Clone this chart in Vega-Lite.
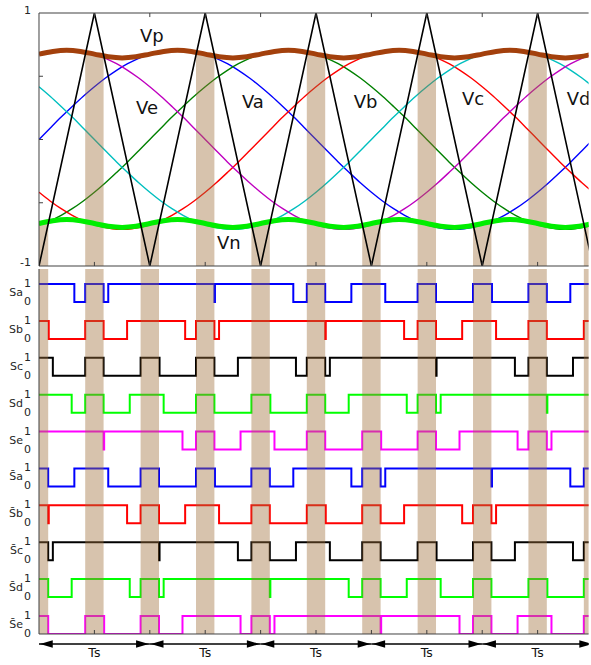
{
  "$schema": "https://vega.github.io/schema/vega-lite/v6.json",
  "padding": {"left": 9, "top": 5, "right": 0, "bottom": 0},
  "background": "white",
  "config": {
    "font": "DejaVu Sans",
    "view": {"stroke": null}
  },
  "spacing": 0,
  "datasets": {
    "ph": [
      {"t":0,"va":0,"vb":-0.675,"vc":-0.417,"vd":0.417,"ve":0.675},
      {"t":0.1,"va":0.089,"vb":-0.642,"vc":-0.486,"vd":0.342,"ve":0.697},
      {"t":0.2,"va":0.177,"vb":-0.599,"vc":-0.547,"vd":0.261,"ve":0.709},
      {"t":0.3,"va":0.261,"vb":-0.547,"vc":-0.599,"vd":0.177,"ve":0.709},
      {"t":0.4,"va":0.342,"vb":-0.486,"vc":-0.642,"vd":0.089,"ve":0.697},
      {"t":0.5,"va":0.417,"vb":-0.417,"vc":-0.675,"vd":0,"ve":0.675},
      {"t":0.6,"va":0.486,"vb":-0.342,"vc":-0.697,"vd":-0.089,"ve":0.642},
      {"t":0.7,"va":0.547,"vb":-0.261,"vc":-0.709,"vd":-0.177,"ve":0.599},
      {"t":0.8,"va":0.599,"vb":-0.177,"vc":-0.709,"vd":-0.261,"ve":0.547},
      {"t":0.9,"va":0.642,"vb":-0.089,"vc":-0.697,"vd":-0.342,"ve":0.486},
      {"t":1.0,"va":0.675,"vb":0,"vc":-0.675,"vd":-0.417,"ve":0.417},
      {"t":1.1,"va":0.697,"vb":0.089,"vc":-0.642,"vd":-0.486,"ve":0.342},
      {"t":1.2,"va":0.709,"vb":0.177,"vc":-0.599,"vd":-0.547,"ve":0.261},
      {"t":1.3,"va":0.709,"vb":0.261,"vc":-0.547,"vd":-0.599,"ve":0.177},
      {"t":1.4,"va":0.697,"vb":0.342,"vc":-0.486,"vd":-0.642,"ve":0.089},
      {"t":1.5,"va":0.675,"vb":0.417,"vc":-0.417,"vd":-0.675,"ve":0},
      {"t":1.6,"va":0.642,"vb":0.486,"vc":-0.342,"vd":-0.697,"ve":-0.089},
      {"t":1.7,"va":0.599,"vb":0.547,"vc":-0.261,"vd":-0.709,"ve":-0.177},
      {"t":1.8,"va":0.547,"vb":0.599,"vc":-0.177,"vd":-0.709,"ve":-0.261},
      {"t":1.9,"va":0.486,"vb":0.642,"vc":-0.089,"vd":-0.697,"ve":-0.342},
      {"t":2.0,"va":0.417,"vb":0.675,"vc":0,"vd":-0.675,"ve":-0.417},
      {"t":2.1,"va":0.342,"vb":0.697,"vc":0.089,"vd":-0.642,"ve":-0.486},
      {"t":2.2,"va":0.261,"vb":0.709,"vc":0.177,"vd":-0.599,"ve":-0.547},
      {"t":2.3,"va":0.177,"vb":0.709,"vc":0.261,"vd":-0.547,"ve":-0.599},
      {"t":2.4,"va":0.089,"vb":0.697,"vc":0.342,"vd":-0.486,"ve":-0.642},
      {"t":2.5,"va":0,"vb":0.675,"vc":0.417,"vd":-0.417,"ve":-0.675},
      {"t":2.6,"va":-0.089,"vb":0.642,"vc":0.486,"vd":-0.342,"ve":-0.697},
      {"t":2.7,"va":-0.177,"vb":0.599,"vc":0.547,"vd":-0.261,"ve":-0.709},
      {"t":2.8,"va":-0.261,"vb":0.547,"vc":0.599,"vd":-0.177,"ve":-0.709},
      {"t":2.9,"va":-0.342,"vb":0.486,"vc":0.642,"vd":-0.089,"ve":-0.697},
      {"t":3.0,"va":-0.417,"vb":0.417,"vc":0.675,"vd":0,"ve":-0.675},
      {"t":3.1,"va":-0.486,"vb":0.342,"vc":0.697,"vd":0.089,"ve":-0.642},
      {"t":3.2,"va":-0.547,"vb":0.261,"vc":0.709,"vd":0.177,"ve":-0.599},
      {"t":3.3,"va":-0.599,"vb":0.177,"vc":0.709,"vd":0.261,"ve":-0.547},
      {"t":3.4,"va":-0.642,"vb":0.089,"vc":0.697,"vd":0.342,"ve":-0.486},
      {"t":3.5,"va":-0.675,"vb":0,"vc":0.675,"vd":0.417,"ve":-0.417},
      {"t":3.6,"va":-0.697,"vb":-0.089,"vc":0.642,"vd":0.486,"ve":-0.342},
      {"t":3.7,"va":-0.709,"vb":-0.177,"vc":0.599,"vd":0.547,"ve":-0.261},
      {"t":3.8,"va":-0.709,"vb":-0.261,"vc":0.547,"vd":0.599,"ve":-0.177},
      {"t":3.9,"va":-0.697,"vb":-0.342,"vc":0.486,"vd":0.642,"ve":-0.089},
      {"t":4.0,"va":-0.675,"vb":-0.417,"vc":0.417,"vd":0.675,"ve":0},
      {"t":4.1,"va":-0.642,"vb":-0.486,"vc":0.342,"vd":0.697,"ve":0.089},
      {"t":4.2,"va":-0.599,"vb":-0.547,"vc":0.261,"vd":0.709,"ve":0.177},
      {"t":4.3,"va":-0.547,"vb":-0.599,"vc":0.177,"vd":0.709,"ve":0.261},
      {"t":4.4,"va":-0.486,"vb":-0.642,"vc":0.089,"vd":0.697,"ve":0.342},
      {"t":4.5,"va":-0.417,"vb":-0.675,"vc":0,"vd":0.675,"ve":0.417},
      {"t":4.6,"va":-0.342,"vb":-0.697,"vc":-0.089,"vd":0.642,"ve":0.486},
      {"t":4.7,"va":-0.261,"vb":-0.709,"vc":-0.177,"vd":0.599,"ve":0.547},
      {"t":4.8,"va":-0.177,"vb":-0.709,"vc":-0.261,"vd":0.547,"ve":0.599},
      {"t":4.9,"va":-0.089,"vb":-0.697,"vc":-0.342,"vd":0.486,"ve":0.642},
      {"t":5.0,"va":0,"vb":-0.675,"vc":-0.417,"vd":0.417,"ve":0.675}
    ],
    "env": [
      {"t":0,"vp":0.675,"vn":-0.664},{"t":0.125,"vp":0.696,"vn":-0.642},{"t":0.25,"vp":0.705,"vn":-0.633},{"t":0.375,"vp":0.696,"vn":-0.642},
      {"t":0.5,"vp":0.675,"vn":-0.664},{"t":0.625,"vp":0.654,"vn":-0.686},{"t":0.75,"vp":0.645,"vn":-0.695},{"t":0.875,"vp":0.654,"vn":-0.686},
      {"t":1,"vp":0.675,"vn":-0.664},{"t":1.125,"vp":0.696,"vn":-0.642},{"t":1.25,"vp":0.705,"vn":-0.633},{"t":1.375,"vp":0.696,"vn":-0.642},
      {"t":1.5,"vp":0.675,"vn":-0.664},{"t":1.625,"vp":0.654,"vn":-0.686},{"t":1.75,"vp":0.645,"vn":-0.695},{"t":1.875,"vp":0.654,"vn":-0.686},
      {"t":2,"vp":0.675,"vn":-0.664},{"t":2.125,"vp":0.696,"vn":-0.642},{"t":2.25,"vp":0.705,"vn":-0.633},{"t":2.375,"vp":0.696,"vn":-0.642},
      {"t":2.5,"vp":0.675,"vn":-0.664},{"t":2.625,"vp":0.654,"vn":-0.686},{"t":2.75,"vp":0.645,"vn":-0.695},{"t":2.875,"vp":0.654,"vn":-0.686},
      {"t":3,"vp":0.675,"vn":-0.664},{"t":3.125,"vp":0.696,"vn":-0.642},{"t":3.25,"vp":0.705,"vn":-0.633},{"t":3.375,"vp":0.696,"vn":-0.642},
      {"t":3.5,"vp":0.675,"vn":-0.664},{"t":3.625,"vp":0.654,"vn":-0.686},{"t":3.75,"vp":0.645,"vn":-0.695},{"t":3.875,"vp":0.654,"vn":-0.686},
      {"t":4,"vp":0.675,"vn":-0.664},{"t":4.125,"vp":0.696,"vn":-0.642},{"t":4.25,"vp":0.705,"vn":-0.633},{"t":4.375,"vp":0.696,"vn":-0.642},
      {"t":4.5,"vp":0.675,"vn":-0.664},{"t":4.625,"vp":0.654,"vn":-0.686},{"t":4.75,"vp":0.645,"vn":-0.695},{"t":4.875,"vp":0.654,"vn":-0.686},
      {"t":5,"vp":0.675,"vn":-0.664}
    ],
    "car": [
      {"t":0,"v":-1},{"t":0.5,"v":1},{"t":1,"v":-1},{"t":1.5,"v":1},{"t":2,"v":-1},{"t":2.5,"v":1},
      {"t":3,"v":-1},{"t":3.5,"v":1},{"t":4,"v":-1},{"t":4.5,"v":1},{"t":5,"v":-1}
    ],
    "bands": [
      {"b0":0,"b1":0.083,"top":-0.664},{"b0":0.417,"b1":0.583,"top":0.675},{"b0":0.917,"b1":1.083,"top":-0.664},
      {"b0":1.417,"b1":1.583,"top":0.675},{"b0":1.917,"b1":2.083,"top":-0.664},{"b0":2.417,"b1":2.583,"top":0.675},
      {"b0":2.917,"b1":3.083,"top":-0.664},{"b0":3.417,"b1":3.583,"top":0.675},{"b0":3.917,"b1":4.083,"top":-0.664},
      {"b0":4.417,"b1":4.583,"top":0.675},{"b0":4.917,"b1":5,"top":-0.664}
    ],
    "ticks": [
      {"t":0.5},{"t":1},{"t":1.5},{"t":2},{"t":2.5},{"t":3},{"t":3.5},{"t":4},{"t":4.5}
    ],
    "bt": [
      {"t":0.5,"s":"S̄e","v":0.111},{"t":1,"s":"S̄e","v":0.111},{"t":1.5,"s":"S̄e","v":0.111},{"t":2,"s":"S̄e","v":0.111},
      {"t":2.5,"s":"S̄e","v":0.111},{"t":3,"s":"S̄e","v":0.111},{"t":3.5,"s":"S̄e","v":0.111},{"t":4,"s":"S̄e","v":0.111},
      {"t":4.5,"s":"S̄e","v":0.111}
    ],
    "yticks": [{"v":0.5},{"v":0},{"v":-0.5}],
    "names": [
      {"lab":"Vp","t":1.018,"v":0.771},{"lab":"Ve","t":0.975,"v":0.202},{"lab":"Va","t":1.93,"v":0.247},
      {"lab":"Vb","t":2.947,"v":0.249},{"lab":"Vc","t":3.917,"v":0.273},{"lab":"Vd","t":4.87,"v":0.273},
      {"lab":"Vn","t":1.713,"v":-0.866}
    ],
    "sw": [
      {"s":"Sa","t":0,"v":1},{"s":"Sa","t":0.319,"v":0},{"s":"Sa","t":0.417,"v":1},{"s":"Sa","t":0.583,"v":0},{"s":"Sa","t":0.625,"v":1},{"s":"Sa","t":1.583,"v":0},{"s":"Sa","t":1.588,"v":1},{"s":"Sa","t":2.295,"v":0},{"s":"Sa","t":2.417,"v":1},{"s":"Sa","t":2.583,"v":0},{"s":"Sa","t":2.819,"v":1},{"s":"Sa","t":3.125,"v":0},{"s":"Sa","t":3.417,"v":1},{"s":"Sa","t":3.583,"v":0},{"s":"Sa","t":3.917,"v":1},{"s":"Sa","t":4.088,"v":0},{"s":"Sa","t":4.417,"v":1},{"s":"Sa","t":4.583,"v":0},{"s":"Sa","t":4.795,"v":1},{"s":"Sa","t":5,"v":1},
      {"s":"Sb","t":0,"v":1},{"s":"Sb","t":0.088,"v":0},{"s":"Sb","t":0.417,"v":1},{"s":"Sb","t":0.583,"v":0},{"s":"Sb","t":0.795,"v":1},{"s":"Sb","t":1.319,"v":0},{"s":"Sb","t":1.417,"v":1},{"s":"Sb","t":1.583,"v":0},{"s":"Sb","t":1.625,"v":1},{"s":"Sb","t":2.583,"v":0},{"s":"Sb","t":2.588,"v":1},{"s":"Sb","t":3.295,"v":0},{"s":"Sb","t":3.417,"v":1},{"s":"Sb","t":3.583,"v":0},{"s":"Sb","t":3.819,"v":1},{"s":"Sb","t":4.125,"v":0},{"s":"Sb","t":4.417,"v":1},{"s":"Sb","t":4.583,"v":0},{"s":"Sb","t":4.917,"v":1},{"s":"Sb","t":5,"v":1},
      {"s":"Sc","t":0,"v":1},{"s":"Sc","t":0.125,"v":0},{"s":"Sc","t":0.417,"v":1},{"s":"Sc","t":0.583,"v":0},{"s":"Sc","t":0.917,"v":1},{"s":"Sc","t":1.088,"v":0},{"s":"Sc","t":1.417,"v":1},{"s":"Sc","t":1.583,"v":0},{"s":"Sc","t":1.795,"v":1},{"s":"Sc","t":2.319,"v":0},{"s":"Sc","t":2.417,"v":1},{"s":"Sc","t":2.583,"v":0},{"s":"Sc","t":2.625,"v":1},{"s":"Sc","t":3.583,"v":0},{"s":"Sc","t":3.588,"v":1},{"s":"Sc","t":4.295,"v":0},{"s":"Sc","t":4.417,"v":1},{"s":"Sc","t":4.583,"v":0},{"s":"Sc","t":4.819,"v":1},{"s":"Sc","t":5,"v":1},
      {"s":"Sd","t":0,"v":1},{"s":"Sd","t":0.295,"v":0},{"s":"Sd","t":0.417,"v":1},{"s":"Sd","t":0.583,"v":0},{"s":"Sd","t":0.819,"v":1},{"s":"Sd","t":1.125,"v":0},{"s":"Sd","t":1.417,"v":1},{"s":"Sd","t":1.583,"v":0},{"s":"Sd","t":1.917,"v":1},{"s":"Sd","t":2.088,"v":0},{"s":"Sd","t":2.417,"v":1},{"s":"Sd","t":2.583,"v":0},{"s":"Sd","t":2.795,"v":1},{"s":"Sd","t":3.319,"v":0},{"s":"Sd","t":3.417,"v":1},{"s":"Sd","t":3.583,"v":0},{"s":"Sd","t":3.625,"v":1},{"s":"Sd","t":4.583,"v":0},{"s":"Sd","t":4.588,"v":1},{"s":"Sd","t":5,"v":1},
      {"s":"Se","t":0,"v":1},{"s":"Se","t":0.583,"v":0},{"s":"Se","t":0.588,"v":1},{"s":"Se","t":1.295,"v":0},{"s":"Se","t":1.417,"v":1},{"s":"Se","t":1.583,"v":0},{"s":"Se","t":1.819,"v":1},{"s":"Se","t":2.125,"v":0},{"s":"Se","t":2.417,"v":1},{"s":"Se","t":2.583,"v":0},{"s":"Se","t":2.917,"v":1},{"s":"Se","t":3.088,"v":0},{"s":"Se","t":3.417,"v":1},{"s":"Se","t":3.583,"v":0},{"s":"Se","t":3.795,"v":1},{"s":"Se","t":4.319,"v":0},{"s":"Se","t":4.417,"v":1},{"s":"Se","t":4.583,"v":0},{"s":"Se","t":4.625,"v":1},{"s":"Se","t":5,"v":1},
      {"s":"S̄a","t":0,"v":1},{"s":"S̄a","t":0.083,"v":0},{"s":"S̄a","t":0.319,"v":1},{"s":"S̄a","t":0.625,"v":0},{"s":"S̄a","t":0.917,"v":1},{"s":"S̄a","t":1.083,"v":0},{"s":"S̄a","t":1.417,"v":1},{"s":"S̄a","t":1.588,"v":0},{"s":"S̄a","t":1.917,"v":1},{"s":"S̄a","t":2.083,"v":0},{"s":"S̄a","t":2.295,"v":1},{"s":"S̄a","t":2.819,"v":0},{"s":"S̄a","t":2.917,"v":1},{"s":"S̄a","t":3.083,"v":0},{"s":"S̄a","t":3.125,"v":1},{"s":"S̄a","t":4.083,"v":0},{"s":"S̄a","t":4.088,"v":1},{"s":"S̄a","t":4.795,"v":0},{"s":"S̄a","t":4.917,"v":1},{"s":"S̄a","t":5,"v":1},
      {"s":"S̄b","t":0,"v":1},{"s":"S̄b","t":0.083,"v":0},{"s":"S̄b","t":0.088,"v":1},{"s":"S̄b","t":0.795,"v":0},{"s":"S̄b","t":0.917,"v":1},{"s":"S̄b","t":1.083,"v":0},{"s":"S̄b","t":1.319,"v":1},{"s":"S̄b","t":1.625,"v":0},{"s":"S̄b","t":1.917,"v":1},{"s":"S̄b","t":2.083,"v":0},{"s":"S̄b","t":2.417,"v":1},{"s":"S̄b","t":2.588,"v":0},{"s":"S̄b","t":2.917,"v":1},{"s":"S̄b","t":3.083,"v":0},{"s":"S̄b","t":3.295,"v":1},{"s":"S̄b","t":3.819,"v":0},{"s":"S̄b","t":3.917,"v":1},{"s":"S̄b","t":4.083,"v":0},{"s":"S̄b","t":4.125,"v":1},{"s":"S̄b","t":5,"v":1},
      {"s":"S̄c","t":0,"v":1},{"s":"S̄c","t":0.083,"v":0},{"s":"S̄c","t":0.125,"v":1},{"s":"S̄c","t":1.083,"v":0},{"s":"S̄c","t":1.088,"v":1},{"s":"S̄c","t":1.795,"v":0},{"s":"S̄c","t":1.917,"v":1},{"s":"S̄c","t":2.083,"v":0},{"s":"S̄c","t":2.319,"v":1},{"s":"S̄c","t":2.625,"v":0},{"s":"S̄c","t":2.917,"v":1},{"s":"S̄c","t":3.083,"v":0},{"s":"S̄c","t":3.417,"v":1},{"s":"S̄c","t":3.588,"v":0},{"s":"S̄c","t":3.917,"v":1},{"s":"S̄c","t":4.083,"v":0},{"s":"S̄c","t":4.295,"v":1},{"s":"S̄c","t":4.819,"v":0},{"s":"S̄c","t":4.917,"v":1},{"s":"S̄c","t":5,"v":1},
      {"s":"S̄d","t":0,"v":1},{"s":"S̄d","t":0.083,"v":0},{"s":"S̄d","t":0.295,"v":1},{"s":"S̄d","t":0.819,"v":0},{"s":"S̄d","t":0.917,"v":1},{"s":"S̄d","t":1.083,"v":0},{"s":"S̄d","t":1.125,"v":1},{"s":"S̄d","t":2.083,"v":0},{"s":"S̄d","t":2.088,"v":1},{"s":"S̄d","t":2.795,"v":0},{"s":"S̄d","t":2.917,"v":1},{"s":"S̄d","t":3.083,"v":0},{"s":"S̄d","t":3.319,"v":1},{"s":"S̄d","t":3.625,"v":0},{"s":"S̄d","t":3.917,"v":1},{"s":"S̄d","t":4.083,"v":0},{"s":"S̄d","t":4.417,"v":1},{"s":"S̄d","t":4.588,"v":0},{"s":"S̄d","t":4.917,"v":1},{"s":"S̄d","t":5,"v":1},
      {"s":"S̄e","t":0,"v":1},{"s":"S̄e","t":0.083,"v":0},{"s":"S̄e","t":0.417,"v":1},{"s":"S̄e","t":0.588,"v":0},{"s":"S̄e","t":0.917,"v":1},{"s":"S̄e","t":1.083,"v":0},{"s":"S̄e","t":1.295,"v":1},{"s":"S̄e","t":1.819,"v":0},{"s":"S̄e","t":1.917,"v":1},{"s":"S̄e","t":2.083,"v":0},{"s":"S̄e","t":2.125,"v":1},{"s":"S̄e","t":3.083,"v":0},{"s":"S̄e","t":3.088,"v":1},{"s":"S̄e","t":3.795,"v":0},{"s":"S̄e","t":3.917,"v":1},{"s":"S̄e","t":4.083,"v":0},{"s":"S̄e","t":4.319,"v":1},{"s":"S̄e","t":4.625,"v":0},{"s":"S̄e","t":4.917,"v":1},{"s":"S̄e","t":5,"v":1}
    ],
    "lv": [
      {"s":"Sa","v":1,"lab":"1"},{"s":"Sa","v":0,"lab":"0"},{"s":"Sb","v":1,"lab":"1"},{"s":"Sb","v":0,"lab":"0"},
      {"s":"Sc","v":1,"lab":"1"},{"s":"Sc","v":0,"lab":"0"},{"s":"Sd","v":1,"lab":"1"},{"s":"Sd","v":0,"lab":"0"},
      {"s":"Se","v":1,"lab":"1"},{"s":"Se","v":0,"lab":"0"},{"s":"S̄a","v":1,"lab":"1"},{"s":"S̄a","v":0,"lab":"0"},
      {"s":"S̄b","v":1,"lab":"1"},{"s":"S̄b","v":0,"lab":"0"},{"s":"S̄c","v":1,"lab":"1"},{"s":"S̄c","v":0,"lab":"0"},
      {"s":"S̄d","v":1,"lab":"1"},{"s":"S̄d","v":0,"lab":"0"},{"s":"S̄e","v":1,"lab":"1"},{"s":"S̄e","v":0,"lab":"0"}
    ],
    "nm": [
      {"s":"Sa","v":0.5},{"s":"Sb","v":0.5},{"s":"Sc","v":0.5},{"s":"Sd","v":0.5},{"s":"Se","v":0.5},
      {"s":"S̄a","v":0.5},{"s":"S̄b","v":0.5},{"s":"S̄c","v":0.5},{"s":"S̄d","v":0.5},{"s":"S̄e","v":0.5}
    ],
    "ts": [
      {"a0":0,"a1":1,"mid":0.5,"lab":"Ts"},{"a0":1,"a1":2,"mid":1.5,"lab":"Ts"},{"a0":2,"a1":3,"mid":2.5,"lab":"Ts"},
      {"a0":3,"a1":4,"mid":3.5,"lab":"Ts"},{"a0":4,"a1":5,"mid":4.5,"lab":"Ts"}
    ]
  },
  "vconcat": [
    {
      "width": 549.6,
      "height": 253,
      "layer": [
        {
          "data": {"name": "ph"},
          "mark": {"type": "line", "color": "#0000ff", "strokeWidth": 1.4, "interpolate": "monotone", "clip": true},
          "encoding": {
            "x": {"field": "t", "type": "quantitative", "scale": {"domain": [0, 4.96], "nice": false, "zero": false}, "axis": null},
            "y": {"field": "va", "type": "quantitative", "scale": {"domain": [-1, 1], "nice": false, "zero": false}, "axis": null}
          }
        },
        {
          "data": {"name": "ph"},
          "mark": {"type": "line", "color": "#008000", "strokeWidth": 1.4, "interpolate": "monotone", "clip": true},
          "encoding": {
            "x": {"field": "t", "type": "quantitative", "scale": {"domain": [0, 4.96], "nice": false, "zero": false}, "axis": null},
            "y": {"field": "vb", "type": "quantitative", "scale": {"domain": [-1, 1], "nice": false, "zero": false}, "axis": null}
          }
        },
        {
          "data": {"name": "ph"},
          "mark": {"type": "line", "color": "#ff0000", "strokeWidth": 1.4, "interpolate": "monotone", "clip": true},
          "encoding": {
            "x": {"field": "t", "type": "quantitative", "scale": {"domain": [0, 4.96], "nice": false, "zero": false}, "axis": null},
            "y": {"field": "vc", "type": "quantitative", "scale": {"domain": [-1, 1], "nice": false, "zero": false}, "axis": null}
          }
        },
        {
          "data": {"name": "ph"},
          "mark": {"type": "line", "color": "#00bfbf", "strokeWidth": 1.4, "interpolate": "monotone", "clip": true},
          "encoding": {
            "x": {"field": "t", "type": "quantitative", "scale": {"domain": [0, 4.96], "nice": false, "zero": false}, "axis": null},
            "y": {"field": "vd", "type": "quantitative", "scale": {"domain": [-1, 1], "nice": false, "zero": false}, "axis": null}
          }
        },
        {
          "data": {"name": "ph"},
          "mark": {"type": "line", "color": "#bf00bf", "strokeWidth": 1.4, "interpolate": "monotone", "clip": true},
          "encoding": {
            "x": {"field": "t", "type": "quantitative", "scale": {"domain": [0, 4.96], "nice": false, "zero": false}, "axis": null},
            "y": {"field": "ve", "type": "quantitative", "scale": {"domain": [-1, 1], "nice": false, "zero": false}, "axis": null}
          }
        },
        {
          "data": {"name": "bands"},
          "mark": {"type": "rect", "color": "#a0703c", "opacity": 0.42, "clip": true},
          "encoding": {
            "x": {"field": "b0", "type": "quantitative", "scale": {"domain": [0, 4.96], "nice": false, "zero": false}, "axis": null},
            "x2": {"field": "b1"},
            "y": {"field": "top", "type": "quantitative", "scale": {"domain": [-1, 1], "nice": false, "zero": false}, "axis": null},
            "y2": {"datum": -1}
          }
        },
        {
          "data": {"name": "env"},
          "mark": {"type": "line", "color": "#a3400c", "strokeWidth": 5, "interpolate": "monotone", "clip": true},
          "encoding": {
            "x": {"field": "t", "type": "quantitative", "scale": {"domain": [0, 4.96], "nice": false, "zero": false}, "axis": null},
            "y": {"field": "vp", "type": "quantitative", "scale": {"domain": [-1, 1], "nice": false, "zero": false}, "axis": null}
          }
        },
        {
          "data": {"name": "env"},
          "mark": {"type": "line", "color": "#00ee00", "strokeWidth": 5, "interpolate": "monotone", "clip": true},
          "encoding": {
            "x": {"field": "t", "type": "quantitative", "scale": {"domain": [0, 4.96], "nice": false, "zero": false}, "axis": null},
            "y": {"field": "vn", "type": "quantitative", "scale": {"domain": [-1, 1], "nice": false, "zero": false}, "axis": null}
          }
        },
        {
          "data": {"name": "car"},
          "mark": {"type": "line", "color": "#000000", "strokeWidth": 1.6, "clip": true},
          "encoding": {
            "x": {"field": "t", "type": "quantitative", "scale": {"domain": [0, 4.96], "nice": false, "zero": false}, "axis": null},
            "y": {"field": "v", "type": "quantitative", "scale": {"domain": [-1, 1], "nice": false, "zero": false}, "axis": null}
          }
        },
        {
          "data": {"name": "names"},
          "mark": {"type": "text", "fontSize": 18, "baseline": "alphabetic", "color": "#111111", "clip": true},
          "encoding": {
            "x": {"field": "t", "type": "quantitative", "scale": {"domain": [0, 4.96], "nice": false, "zero": false}, "axis": null},
            "y": {"field": "v", "type": "quantitative", "scale": {"domain": [-1, 1], "nice": false, "zero": false}, "axis": null},
            "text": {"field": "lab"}
          }
        },
        {
          "data": {"values": [{"b": 1}, {"b": -1}]},
          "mark": {"type": "rule", "color": "#404040", "strokeWidth": 1},
          "encoding": {
            "y": {"field": "b", "type": "quantitative", "scale": {"domain": [-1, 1], "nice": false, "zero": false}, "axis": null}
          }
        },
        {
          "data": {"values": [{"b": 0}]},
          "mark": {"type": "rule", "color": "#404040", "strokeWidth": 1},
          "encoding": {
            "x": {"field": "b", "type": "quantitative", "scale": {"domain": [0, 4.96], "nice": false, "zero": false}, "axis": null}
          }
        },
        {
          "data": {"name": "ticks"},
          "mark": {"type": "rule", "color": "#404040", "strokeWidth": 1},
          "encoding": {
            "x": {"field": "t", "type": "quantitative", "scale": {"domain": [0, 4.96], "nice": false, "zero": false}, "axis": null},
            "y": {"datum": 1, "type": "quantitative", "scale": {"domain": [-1, 1], "nice": false, "zero": false}, "axis": null},
            "y2": {"datum": 0.968}
          }
        },
        {
          "data": {"name": "ticks"},
          "mark": {"type": "rule", "color": "#404040", "strokeWidth": 1},
          "encoding": {
            "x": {"field": "t", "type": "quantitative", "scale": {"domain": [0, 4.96], "nice": false, "zero": false}, "axis": null},
            "y": {"datum": -1, "type": "quantitative", "scale": {"domain": [-1, 1], "nice": false, "zero": false}, "axis": null},
            "y2": {"datum": -0.968}
          }
        },
        {
          "data": {"name": "yticks"},
          "mark": {"type": "rule", "color": "#404040", "strokeWidth": 1},
          "encoding": {
            "y": {"field": "v", "type": "quantitative", "scale": {"domain": [-1, 1], "nice": false, "zero": false}, "axis": null},
            "x": {"datum": 0, "type": "quantitative", "scale": {"domain": [0, 4.96], "nice": false, "zero": false}, "axis": null},
            "x2": {"datum": 0.036}
          }
        },
        {
          "data": {"values": [{"lab": "1", "v": 1}]},
          "mark": {"type": "text", "align": "right", "baseline": "middle", "dx": -8, "dy": -2, "fontSize": 11, "color": "#262626"},
          "encoding": {
            "x": {"datum": 0, "type": "quantitative", "scale": {"domain": [0, 4.96], "nice": false, "zero": false}, "axis": null},
            "y": {"field": "v", "type": "quantitative", "scale": {"domain": [-1, 1], "nice": false, "zero": false}, "axis": null},
            "text": {"field": "lab"}
          }
        },
        {
          "data": {"values": [{"lab": "-1", "v": -1}]},
          "mark": {"type": "text", "align": "right", "baseline": "alphabetic", "dx": -8, "dy": 0, "fontSize": 11, "color": "#262626"},
          "encoding": {
            "x": {"datum": 0, "type": "quantitative", "scale": {"domain": [0, 4.96], "nice": false, "zero": false}, "axis": null},
            "y": {"field": "v", "type": "quantitative", "scale": {"domain": [-1, 1], "nice": false, "zero": false}, "axis": null},
            "text": {"field": "lab"}
          }
        }
      ]
    },
    {
      "width": 549.6,
      "height": 365,
      "layer": [
        {
          "data": {"name": "sw"},
          "mark": {"type": "line", "interpolate": "step-after", "strokeWidth": 2, "clip": true},
          "encoding": {
            "x": {"field": "t", "type": "quantitative", "scale": {"domain": [0, 4.96], "nice": false, "zero": false}, "axis": null},
            "y": {"field": "s", "type": "nominal", "sort": ["Sa","Sb","Sc","Sd","Se","S̄a","S̄b","S̄c","S̄d","S̄e"],
                  "scale": {"type": "band", "paddingInner": 0.512, "paddingOuter": 0.2033, "align": 1}, "axis": null},
            "yOffset": {"field": "v", "type": "quantitative", "scale": {"domain": [0, 1], "reverse": true}},
            "order": {"field": "t", "type": "quantitative"},
            "color": {"field": "s", "type": "nominal", "legend": null,
                      "scale": {"domain": ["Sa","Sb","Sc","Sd","Se","S̄a","S̄b","S̄c","S̄d","S̄e"],
                                "range": ["#0000ff","#ff0000","#000000","#00ff00","#ff00ff","#0000ff","#ff0000","#000000","#00ff00","#ff00ff"]}}
          }
        },
        {
          "data": {"name": "bands"},
          "mark": {"type": "rect", "color": "#a0703c", "opacity": 0.42, "clip": true},
          "encoding": {
            "x": {"field": "b0", "type": "quantitative", "scale": {"domain": [0, 4.96], "nice": false, "zero": false}, "axis": null},
            "x2": {"field": "b1"}
          }
        },
        {
          "data": {"values": [{"b": 0}]},
          "mark": {"type": "rule", "color": "#404040", "strokeWidth": 1},
          "encoding": {
            "x": {"field": "b", "type": "quantitative", "scale": {"domain": [0, 4.96], "nice": false, "zero": false}, "axis": null}
          }
        },
        {
          "data": {"values": [{"s": "S̄e", "v": 0}]},
          "mark": {"type": "rule", "color": "#404040", "strokeWidth": 1},
          "encoding": {
            "y": {"field": "s", "type": "nominal", "sort": ["Sa","Sb","Sc","Sd","Se","S̄a","S̄b","S̄c","S̄d","S̄e"], "axis": null},
            "yOffset": {"field": "v", "type": "quantitative"}
          }
        },
        {
          "data": {"name": "bt"},
          "mark": {"type": "tick", "orient": "vertical", "size": 4, "thickness": 1, "color": "#404040", "opacity": 1},
          "encoding": {
            "x": {"field": "t", "type": "quantitative", "scale": {"domain": [0, 4.96], "nice": false, "zero": false}, "axis": null},
            "y": {"field": "s", "type": "nominal", "sort": ["Sa","Sb","Sc","Sd","Se","S̄a","S̄b","S̄c","S̄d","S̄e"], "axis": null},
            "yOffset": {"field": "v", "type": "quantitative"}
          }
        },
        {
          "data": {"name": "lv"},
          "mark": {"type": "text", "align": "right", "dx": -8, "fontSize": 11, "color": "#262626"},
          "encoding": {
            "x": {"datum": 0, "type": "quantitative", "scale": {"domain": [0, 4.96], "nice": false, "zero": false}, "axis": null},
            "y": {"field": "s", "type": "nominal", "sort": ["Sa","Sb","Sc","Sd","Se","S̄a","S̄b","S̄c","S̄d","S̄e"], "axis": null},
            "yOffset": {"field": "v", "type": "quantitative"},
            "text": {"field": "lab"}
          }
        },
        {
          "data": {"name": "nm"},
          "mark": {"type": "text", "align": "right", "dx": -16, "fontSize": 11, "color": "#262626"},
          "encoding": {
            "x": {"datum": 0, "type": "quantitative", "scale": {"domain": [0, 4.96], "nice": false, "zero": false}, "axis": null},
            "y": {"field": "s", "type": "nominal", "sort": ["Sa","Sb","Sc","Sd","Se","S̄a","S̄b","S̄c","S̄d","S̄e"], "axis": null},
            "yOffset": {"field": "v", "type": "quantitative"},
            "text": {"field": "s"}
          }
        }
      ]
    },
    {
      "width": 549.6,
      "height": 10,
      "data": {"name": "ts"},
      "layer": [
        {
          "mark": {"type": "rule", "color": "#000000", "strokeWidth": 1.5, "clip": true},
          "encoding": {
            "x": {"field": "a0", "type": "quantitative", "scale": {"domain": [0, 4.96], "nice": false, "zero": false}, "axis": null},
            "x2": {"field": "a1"}
          }
        },
        {
          "mark": {"type": "point", "shape": "M0.17,0L2.17,-0.6L2.17,0.6Z", "filled": true, "color": "#000000", "opacity": 1, "size": 160, "clip": true},
          "encoding": {
            "x": {"field": "a0", "type": "quantitative", "scale": {"domain": [0, 4.96], "nice": false, "zero": false}, "axis": null}
          }
        },
        {
          "mark": {"type": "point", "shape": "M-0.17,0L-2.17,-0.6L-2.17,0.6Z", "filled": true, "color": "#000000", "opacity": 1, "size": 160, "clip": true},
          "encoding": {
            "x": {"field": "a1", "type": "quantitative", "scale": {"domain": [0, 4.96], "nice": false, "zero": false}, "axis": null}
          }
        },
        {
          "mark": {"type": "text", "dy": 9.5, "fontSize": 12.5, "color": "#111111"},
          "encoding": {
            "x": {"field": "mid", "type": "quantitative", "scale": {"domain": [0, 4.96], "nice": false, "zero": false}, "axis": null},
            "text": {"field": "lab"}
          }
        }
      ]
    }
  ]
}
